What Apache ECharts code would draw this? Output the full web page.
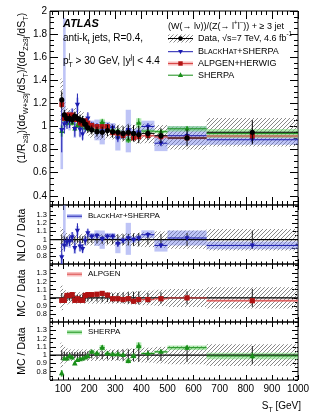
<!DOCTYPE html>
<html><head><meta charset="utf-8">
<script src="https://cdn.jsdelivr.net/npm/echarts@6/dist/echarts.min.js"></script>
<style>html,body{margin:0;padding:0;background:#fff}#c{width:316px;height:413px}</style>
</head><body><div id="c"></div>
<script>
// ---------- data ----------
const stLo  = [90,100,110,120,130,140,150,160,170,180,190,200,220,240,260,280,300,320,340,360,380,400,450,500,650];
const stHi  = [100,110,120,130,140,150,160,170,180,190,200,220,240,260,280,300,320,340,360,380,400,450,500,650,1000];
const stMid = [95,105,115,125,135,145,155,165,175,185,195,210,230,250,270,290,310,330,350,370,390,425,475,575,825];

const dataVal     = [1.23,1.10,1.07,1.07,1.06,1.09,1.07,1.06,1.05,1.02,0.99,0.97,0.955,0.95,0.965,0.955,0.95,0.94,0.95,0.94,0.93,0.94,0.92,0.90,0.95];
const dataStatRel = [0.06,0.04,0.035,0.035,0.035,0.035,0.035,0.04,0.04,0.04,0.045,0.04,0.045,0.05,0.05,0.055,0.06,0.065,0.07,0.075,0.08,0.06,0.07,0.08,0.11];
const dataSystRel = [0.15,0.10,0.08,0.07,0.07,0.07,0.07,0.07,0.07,0.07,0.07,0.07,0.07,0.07,0.07,0.07,0.07,0.075,0.08,0.08,0.085,0.09,0.10,0.11,0.13];

const nloMain    = [0.97,1.02,1.04,1.05,1.09,0.98,1.19,0.975,0.935,1.01,1.07,1.01,1.00,0.96,1.00,0.99,0.90,0.93,0.97,0.94,0.95,1.00,0.855,0.92,0.885];
const nloRatio   = [0.79,0.93,0.97,0.98,1.03,0.90,1.11,0.92,0.89,0.99,1.08,1.04,1.05,1.01,1.04,1.04,0.95,0.99,1.02,1.00,1.02,1.06,0.93,1.02,0.93];
const nloStatRel = [0.20,0.08,0.06,0.06,0.06,0.07,0.08,0.07,0.06,0.06,0.05,0.03,0.03,0.03,0.03,0.03,0.04,0.03,0.03,0.03,0.03,0.03,0.03,0.03,0.03];
const nloUncUp   = [0.05,0.90,0.05,0.08,0.06,0.10,0.05,0.06,0.05,0.05,0.04,0.04,0.06,0.10,0.04,0.04,0.08,0.04,0.18,0.04,0.04,0.05,0.08,0.09,0.05];
const nloUncDn   = [0.35,0.05,0.05,0.08,0.06,0.08,0.05,0.06,0.05,0.05,0.04,0.04,0.12,0.12,0.04,0.04,0.12,0.04,0.20,0.04,0.04,0.04,0.08,0.09,0.05];

const alpMain    = [1.19,1.07,1.10,1.10,1.10,1.06,1.06,1.03,1.02,1.05,1.03,1.01,1.00,1.00,1.00,0.945,0.94,0.92,0.94,0.90,0.91,0.92,0.91,0.90,0.917];
const alpRatio   = [0.97,0.97,1.03,1.03,1.04,0.97,0.99,0.97,0.97,1.03,1.04,1.04,1.045,1.055,1.035,0.99,0.99,0.98,0.99,0.96,0.98,0.98,0.99,1.00,0.965];
const alpStatRel = [0.02,0.015,0.015,0.015,0.015,0.015,0.015,0.015,0.015,0.015,0.015,0.012,0.012,0.012,0.012,0.012,0.012,0.012,0.012,0.012,0.012,0.012,0.012,0.012,0.015];

const shMain     = [0.96,1.06,1.03,1.06,1.03,0.98,1.01,1.01,1.01,0.99,0.98,1.01,0.975,1.035,0.985,0.965,0.96,0.94,0.885,0.93,1.03,0.96,0.955,0.98,0.94];
const shRatio    = [0.78,0.96,0.96,0.99,0.97,0.90,0.94,0.95,0.96,0.97,0.99,1.04,1.02,1.09,1.02,1.01,1.01,1.00,0.93,0.99,1.11,1.02,1.04,1.09,0.99];
const shStatRel  = [0.05,0.02,0.02,0.02,0.02,0.02,0.02,0.02,0.02,0.02,0.02,0.02,0.02,0.03,0.02,0.02,0.02,0.02,0.03,0.03,0.04,0.015,0.015,0.025,0.04];

const xTickLabels   = [100,200,300,400,500,600,700,800,900,1000];
const mainYTicks    = [0.4,0.6,0.8,1.0,1.2,1.4,1.6,1.8,2.0];
const ratioYTicks   = [0.8,0.9,1.0,1.1,1.2,1.3];
const unity = [1];

// ---------- layout ----------
const FONT = '"Liberation Sans", Arial, Helvetica, sans-serif';
const X0 = 50, XW = 248, XMIN = 50, XMAX = 1000;
const GRIDS = [
  {top:11,  height:194, min:0.32,  max:2.0,   major:mainYTicks,  minorStep:0.05, tl:8, ml:4},
  {top:205, height:59,  min:0.705, max:1.42,  major:ratioYTicks, minorStep:0.05, tl:6, ml:3},
  {top:264, height:58,  min:0.705, max:1.415, major:ratioYTicks, minorStep:0.05, tl:6, ml:3},
  {top:322, height:58,  min:0.70,  max:1.40,  major:ratioYTicks, minorStep:0.05, tl:6, ml:3}
];
const C = {
  nlo:'#1c1cb0', nloBand:'rgba(110,125,235,0.45)',
  alp:'#b01313', alpLine:'#d94a4a', alpBand:'rgba(240,110,110,0.45)',
  sh:'#1a8f1a', shBand:'rgba(110,220,110,0.5)'
};

function minorList(min, max, step, majors) {
  const out = [];
  for (let v = Math.ceil(min/step)*step; v <= max + 1e-9; v += step) {
    const r = Math.round(v*1000)/1000;
    if (!majors.some(m => Math.abs(m - r) < 1e-6)) out.push(r);
  }
  return out;
}
const xMinor = minorList(XMIN, XMAX, 20, xTickLabels);

function hatchCanvas() {
  const c = document.createElement('canvas'); c.width = 4; c.height = 4;
  const g = c.getContext('2d'); g.strokeStyle = '#7a7a7a'; g.lineWidth = 0.9;
  g.beginPath(); g.moveTo(0,4); g.lineTo(4,0); g.moveTo(-1,1); g.lineTo(1,-1); g.moveTo(3,5); g.lineTo(5,3); g.stroke();
  return c;
}
const HATCH = {image: hatchCanvas(), repeat: 'repeat'};

// ---------- axes ----------
const grid = [], xAxis = [], yAxis = [];
GRIDS.forEach((G, g) => {
  grid.push({left:X0, width:XW, top:G.top, height:G.height, show:true, borderColor:'#000', borderWidth:1, backgroundColor:'transparent'});
  const xl = g === 0 ? 8 : 5;
  const xa = (pos, vals, len, lab) => ({
    gridIndex:g, type:'value', min:XMIN, max:XMAX, position:pos,
    axisLine:{show:false}, splitLine:{show:false},
    axisTick:{show:true, inside:true, length:len, customValues:vals, lineStyle:{color:'#000', width:1}},
    axisLabel:{show:lab, customValues:vals, margin:4, color:'#000', fontFamily:FONT, fontSize:10, formatter: v => String(v)}
  });
  xAxis.push(xa('bottom', xTickLabels, xl, g === 3));
  xAxis.push(xa('bottom', xMinor, xl/2, false));
  xAxis.push(xa('top', xTickLabels, xl, false));
  xAxis.push(xa('top', xMinor, xl/2, false));
  const yMinor = minorList(G.min, G.max, G.minorStep, G.major);
  const ya = (pos, vals, len, lab) => ({
    gridIndex:g, type:'value', min:G.min, max:G.max, position:pos,
    axisLine:{show:false}, splitLine:{show:false},
    axisTick:{show:true, inside:true, length:len, customValues:vals, lineStyle:{color:'#000', width:1}},
    axisLabel:{show:lab, customValues:vals, margin:3, color:'#000', fontFamily:FONT, fontSize: g === 0 ? 10 : 7.5,
      formatter: v => String(Math.round(v*10)/10)}
  });
  yAxis.push(ya('left', G.major, G.tl, true));
  yAxis.push(ya('left', yMinor, G.ml, false));
  yAxis.push(ya('right', G.major, G.tl, false));
  yAxis.push(ya('right', yMinor, G.ml, false));
});

// ---------- series helpers ----------
function clampFor(g) { const G = GRIDS[g]; return v => Math.max(G.min, Math.min(G.max, v)); }

function rectSeries(g, rows, style, z) {
  return {type:'custom', xAxisIndex:4*g, yAxisIndex:4*g, silent:true, animation:false, z:z, data:rows,
    renderItem(p, api) {
      const cl = clampFor(g);
      const a = api.coord([api.value(0), cl(api.value(3))]);
      const b = api.coord([api.value(1), cl(api.value(2))]);
      return {type:'rect', shape:{x:a[0], y:a[1], width:b[0]-a[0], height:b[1]-a[1]}, style:Object.assign({}, style)};
    }};
}

function markerEl(kind, x, y, s, color) {
  if (kind === 'circle') return {type:'circle', shape:{cx:x, cy:y, r:s}, style:{fill:color}};
  if (kind === 'square') return {type:'rect', shape:{x:x-s, y:y-s, width:2*s, height:2*s}, style:{fill:color}};
  if (kind === 'tup') return {type:'polygon', shape:{points:[[x, y-s*1.1],[x+s, y+s*0.7],[x-s, y+s*0.7]]}, style:{fill:color}};
  return {type:'polygon', shape:{points:[[x, y+s*1.1],[x+s, y-s*0.7],[x-s, y-s*0.7]]}, style:{fill:color}};
}

function pointSeries(g, rows, o) {
  return {type:'custom', xAxisIndex:4*g, yAxisIndex:4*g, silent:true, animation:false, z:o.z, data:rows,
    renderItem(p, api) {
      const G = GRIDS[g], cl = clampFor(g);
      const xc = api.value(0), x0 = api.value(1), x1 = api.value(2), y = api.value(3), lo = api.value(4), hi = api.value(5);
      const inR = y >= G.min && y <= G.max;
      const ch = [];
      if (o.hline && inR) {
        const a = api.coord([x0, y]), b = api.coord([x1, y]);
        ch.push({type:'line', shape:{x1:a[0], y1:a[1], x2:b[0], y2:b[1]}, style:{stroke:o.color, lineWidth:o.lw || 1}});
      }
      if (o.vline) {
        const a = api.coord([xc, cl(lo)]), b = api.coord([xc, cl(hi)]);
        ch.push({type:'line', shape:{x1:a[0], y1:a[1], x2:b[0], y2:b[1]}, style:{stroke:o.vcolor || o.color, lineWidth:1}});
      }
      if (o.marker && inR) { const q = api.coord([xc, y]); ch.push(markerEl(o.marker, q[0], q[1], o.size, o.mcolor || o.color)); }
      return {type:'group', children:ch};
    }};
}

function lineSeries(g, vals, z) {
  return {type:'custom', xAxisIndex:4*g, yAxisIndex:4*g, silent:true, animation:false, z:z,
    data: vals.map(v => [XMIN, XMAX, v]),
    renderItem(p, api) {
      const a = api.coord([api.value(0), api.value(2)]), b = api.coord([api.value(1), api.value(2)]);
      return {type:'line', shape:{x1:a[0], y1:a[1], x2:b[0], y2:b[1]}, style:{stroke:'#000', lineWidth:1.2}};
    }};
}

const idx = stMid.map((_, i) => i);
const series = [];

// main panel
series.push(rectSeries(0, idx.map(i => [stLo[i], stHi[i], dataVal[i]*(1-dataSystRel[i]), dataVal[i]*(1+dataSystRel[i])]), {fill:HATCH}, 1));
series.push(rectSeries(0, idx.map(i => [stLo[i], stHi[i], nloMain[i]*(1-nloUncDn[i]), nloMain[i]*(1+nloUncUp[i])]), {fill:C.nloBand}, 2));
series.push(rectSeries(0, idx.map(i => [stLo[i], stHi[i], alpMain[i]*(1-alpStatRel[i]), alpMain[i]*(1+alpStatRel[i])]), {fill:C.alpBand}, 2));
series.push(rectSeries(0, idx.map(i => [stLo[i], stHi[i], shMain[i]*(1-shStatRel[i]), shMain[i]*(1+shStatRel[i])]), {fill:C.shBand}, 2));
series.push(pointSeries(0, idx.map(i => [stMid[i], stLo[i], stHi[i], shMain[i], shMain[i]*(1-shStatRel[i]), shMain[i]*(1+shStatRel[i])]), {color:C.sh, hline:true, vline:true, marker:'tup', size:2.6, z:4}));
series.push(pointSeries(0, idx.map(i => [stMid[i], stLo[i], stHi[i], nloMain[i], nloMain[i]*(1-nloStatRel[i]), nloMain[i]*(1+nloStatRel[i])]), {color:C.nlo, hline:true, vline:true, marker:'tdown', size:2.6, z:4}));
series.push(pointSeries(0, idx.map(i => [stMid[i], stLo[i], stHi[i], alpMain[i], alpMain[i]*(1-alpStatRel[i]), alpMain[i]*(1+alpStatRel[i])]), {color:C.alpLine, mcolor:C.alp, hline:true, vline:true, marker:'square', size:2.4, z:4}));
series.push(pointSeries(0, idx.map(i => [stMid[i], stLo[i], stHi[i], dataVal[i], dataVal[i]*(1-dataStatRel[i]), dataVal[i]*(1+dataStatRel[i])]), {color:'#000', hline:true, vline:true, marker:'circle', size:2.6, z:6}));

// ratio panels
const ratioDefs = [
  {g:1, r:nloRatio, st:nloStatRel, up:nloUncUp, dn:nloUncDn, color:C.nlo, band:C.nloBand, marker:'tdown', size:2.6},
  {g:2, r:alpRatio, st:alpStatRel, up:alpStatRel, dn:alpStatRel, color:C.alp, band:C.alpBand, marker:'square', size:2.6, line:C.alpLine},
  {g:3, r:shRatio, st:shStatRel, up:shStatRel, dn:shStatRel, color:C.sh, band:C.shBand, marker:'tup', size:2.8}
];
ratioDefs.forEach(d => {
  series.push(rectSeries(d.g, idx.map(i => [stLo[i], stHi[i], 1-dataSystRel[i], 1+dataSystRel[i]]), {fill:HATCH}, 1));
  series.push(rectSeries(d.g, idx.map(i => [stLo[i], stHi[i], d.r[i]*(1-d.dn[i]), d.r[i]*(1+d.up[i])]), {fill:d.band}, 2));
  series.push(lineSeries(d.g, unity, 3));
  series.push(pointSeries(d.g, idx.map(i => [stMid[i], stLo[i], stHi[i], 1, 1-dataStatRel[i], 1+dataStatRel[i]]), {color:'#222', hline:false, vline:true, z:3}));
  series.push(pointSeries(d.g, idx.map(i => [stMid[i], stLo[i], stHi[i], d.r[i], d.r[i]*(1-d.st[i]), d.r[i]*(1+d.st[i])]), {color:d.line || d.color, mcolor:d.color, hline:true, vline:true, marker:d.marker, size:d.size, z:5}));
});

// ---------- text / legends ----------
function rich(fs) {
  return {
    n:{fontSize:fs, fontFamily:FONT, lineHeight:fs*1.5, verticalAlign:'middle', fill:'#000'},
    s:{fontSize:fs*0.7, fontFamily:FONT, lineHeight:fs*0.7, verticalAlign:'bottom', fill:'#000'},
    u:{fontSize:fs*0.7, fontFamily:FONT, lineHeight:fs*0.7, verticalAlign:'top', fill:'#000'},
    b:{fontSize:fs, fontFamily:FONT, lineHeight:fs*1.5, verticalAlign:'middle', fill:'#000'},
    c:{fontSize:fs*0.78, fontFamily:FONT, lineHeight:fs*1.5, verticalAlign:'middle', fill:'#000'}
  };
}
function T(x, y, text, fs, o) {
  o = o || {};
  return {type:'text', x:x, y:y, rotation:o.rot || 0, z:100, silent:true,
    style:{text:text, fill:'#000', fontFamily:FONT, fontSize:fs, fontWeight:o.weight || 'normal', fontStyle:o.style || 'normal',
      align:o.align || 'left', verticalAlign:o.va || 'middle', rich:o.rich ? rich(fs) : undefined}};
}
const L = (x1, y1, x2, y2, color, w) => ({type:'line', z:100, silent:true, shape:{x1, y1, x2, y2}, style:{stroke:color, lineWidth:w || 1}});
const Rct = (x, y, w, h, fill) => ({type:'rect', z:99, silent:true, shape:{x, y, width:w, height:h}, style:{fill}});
const M = (kind, x, y, s, color) => Object.assign(markerEl(kind, x, y, s, color), {z:101, silent:true});

const bhText = '{b|B}{c|LACK}{b|H}{c|AT}{b|+SHERPA}';
const graphic = [
  T(63, 23.5, 'ATLAS', 11, {weight:'bold', style:'italic'}),
  T(63, 38.5, '{n|anti-k}{s|t}{n| jets, R=0.4,}', 10, {rich:true}),
  T(63, 61.5, '{n|p}{s|T}{n| > 30 GeV, |y}{u|j}{n|| < 4.4}', 10, {rich:true}),
  T(68.8, 56.5, 'j', 7),
  // main legend
  T(168, 26.7, '{n|(W(→ lν))/(Z(→ l}{u|+}{n|l}{u|−}{n|)) + ≥ 3 jet}', 9, {rich:true}),
  Rct(168, 34.5, 25, 8, HATCH),
  L(168, 38.5, 193, 38.5, '#000'), M('circle', 180.5, 38.5, 2.2, '#000'),
  T(198, 38.5, '{n|Data, √s=7 TeV, 4.6 fb}{u|-1}', 9, {rich:true}),
  L(168, 51.7, 193, 51.7, C.nlo), M('tdown', 180.5, 51.7, 2.4, C.nlo),
  T(198, 51.7, bhText, 9, {rich:true}),
  Rct(168, 61.5, 25, 4, C.alpBand), L(168, 63.5, 193, 63.5, C.alpLine), M('square', 180.5, 63.5, 2.2, C.alp),
  T(198, 63.5, 'ALPGEN+HERWIG', 9),
  L(168, 75.2, 193, 75.2, C.sh), M('tup', 180.5, 75.2, 2.6, C.sh),
  T(198, 75.2, 'SHERPA', 9),
  // ratio legends
  Rct(67, 214, 15, 4.5, C.nloBand), L(67, 216.2, 82, 216.2, C.nlo),
  T(88, 216.2, bhText, 8, {rich:true}),
  Rct(67, 272, 15, 4.5, C.alpBand), L(67, 274.2, 82, 274.2, C.alpLine),
  T(88, 274.2, 'ALPGEN', 8),
  Rct(67, 330, 15, 4.5, C.shBand), L(67, 332.2, 82, 332.2, C.sh),
  T(88, 332.2, 'SHERPA', 8),
  // axis titles
  T(22, 88, '{n|(1/R}{s|≥3j}{n|)(dσ}{s|W+≥3j}{n|/dS}{s|T}{n|)/(dσ}{s|Z≥3j}{n|/dS}{s|T}{n|)}', 10.5, {rich:true, rot:Math.PI/2, align:'center'}),
  T(22, 235, 'NLO / Data', 10.5, {rot:Math.PI/2, align:'center'}),
  T(22, 293, 'MC / Data', 10.5, {rot:Math.PI/2, align:'center'}),
  T(22, 351, 'MC / Data', 10.5, {rot:Math.PI/2, align:'center'}),
  T(301, 406, '{n|S}{s|T}{n| [GeV]}', 10, {rich:true, align:'right'})
];

const chart = echarts.init(document.getElementById('c'), null, {renderer:'canvas'});
chart.setOption({animation:false, backgroundColor:'#fff', grid, xAxis, yAxis, series, graphic});
</script></body></html>
